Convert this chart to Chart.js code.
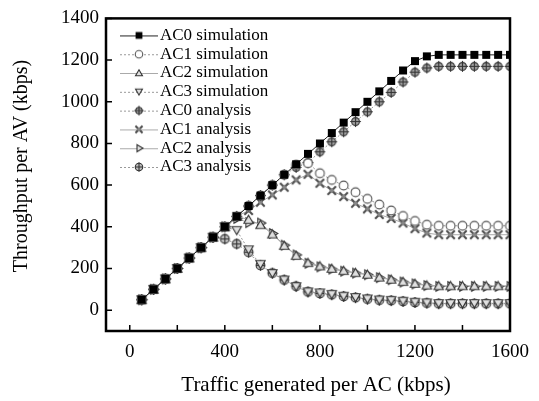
<!DOCTYPE html>
<html>
<head>
<meta charset="utf-8">
<script src="https://cdn.jsdelivr.net/npm/chart.js@4.4.1/dist/chart.umd.min.js"></script>
<style>
  html, body { margin: 0; padding: 0; background: #fff; }
  #wrap { width: 539px; height: 401px; }
</style>
</head>
<body>
<div id="wrap"><canvas id="throughput-chart" width="539" height="401"></canvas></div>
<script>
// traffic generated per AC (kbps), one point every 50
const trafficKbps = [50, 100, 150, 200, 250, 300, 350, 400, 450, 500, 550, 600, 650, 700, 750, 800,
    850, 900, 950, 1000, 1050, 1100, 1150, 1200, 1250, 1300, 1350, 1400, 1450, 1500, 1550, 1600];

const ac0Simulation = [50, 100, 150, 200, 250, 300, 350, 400, 450, 500, 550, 600, 650, 700, 750, 800,
    850, 900, 950, 1000, 1050, 1100, 1150, 1195, 1218, 1225, 1225, 1225, 1225, 1225, 1225, 1225];
const ac1Simulation = [50, 100, 150, 200, 250, 300, 350, 400, 450, 500, 550, 600, 650, 698, 705, 657,
    625, 598, 566, 534, 507, 478, 452, 428, 410, 405, 405, 405, 405, 405, 405, 405];
const ac2Simulation = [50, 100, 150, 200, 250, 300, 350, 400, 450, 435, 410, 365, 310, 262, 228, 212,
    200, 190, 180, 172, 158, 148, 137, 128, 120, 117, 117, 117, 117, 117, 117, 117];
const ac3Simulation = [50, 100, 150, 200, 250, 300, 350, 400, 383, 290, 220, 176, 145, 113, 88, 83,
    76, 67, 61, 54, 49, 47, 43, 38, 35, 32, 32, 32, 32, 32, 32, 32];
const ac0Analysis = [50, 100, 150, 200, 250, 300, 350, 400, 450, 500, 550, 600, 650, 685, 708, 760,
    808, 856, 905, 952, 1000, 1045, 1095, 1142, 1162, 1170, 1170, 1170, 1170, 1170, 1170, 1170];
const ac1Analysis = [50, 100, 150, 200, 250, 300, 350, 400, 450, 478, 518, 553, 590, 625, 652, 609,
    574, 545, 513, 486, 459, 440, 418, 391, 370, 362, 362, 362, 362, 362, 362, 362];
const ac2Analysis = [50, 100, 150, 200, 250, 300, 350, 400, 440, 420, 418, 368, 312, 265, 225, 208,
    197, 187, 178, 170, 156, 146, 135, 126, 118, 114, 114, 114, 114, 114, 114, 114];
const ac3Analysis = [50, 100, 150, 200, 250, 300, 350, 342, 318, 278, 215, 178, 145, 115, 88, 80,
    74, 66, 60, 53, 48, 46, 42, 37, 34, 31, 31, 31, 31, 31, 31, 31];

const seriesLabels = ['AC0 simulation', 'AC1 simulation', 'AC2 simulation', 'AC3 simulation',
    'AC0 analysis', 'AC1 analysis', 'AC2 analysis', 'AC3 analysis'];
const seriesValues = [ac0Simulation, ac1Simulation, ac2Simulation, ac3Simulation,
    ac0Analysis, ac1Analysis, ac2Analysis, ac3Analysis];

const xTickValues = [0, 200, 400, 600, 800, 1000, 1200, 1400, 1600];
const xLabelValues = [0, 400, 800, 1200, 1600];
const yTickValues = [0, 200, 400, 600, 800, 1000, 1200, 1400];
const xTitle = 'Traffic generated per AC (kbps)';
const yTitle = 'Throughput per AV (kbps)';

// look of each series: marker kind, marker radius, line colour, dotted or not
const seriesLook = [
    { kind: 'square', r: 4, line: '#222', dotted: false },
    { kind: 'circle', r: 4.4, line: '#999', dotted: true },
    { kind: 'triUp', r: 5.4, line: '#aaa', dotted: false },
    { kind: 'triDown', r: 5.4, line: '#999', dotted: true },
    { kind: 'circleCross', r: 4.4, line: '#999', dotted: true },
    { kind: 'xStar', r: 4.2, line: '#aaa', dotted: false },
    { kind: 'triRight', r: 5.4, line: '#aaa', dotted: false },
    { kind: 'circleBar', r: 4.4, line: '#999', dotted: true }
];

const SERIF = '"Liberation Serif", "Times New Roman", serif';

function triangle(ctx, cx, cy, r, rotDeg) {
    ctx.beginPath();
    for (let k = 0; k < 3; k++) {
        const a = (rotDeg - 90 + k * 120) * Math.PI / 180;
        const px = cx + r * Math.cos(a), py = cy + r * Math.sin(a) + (rotDeg === 0 ? r * 0.2 : rotDeg === 180 ? -r * 0.2 : 0);
        k === 0 ? ctx.moveTo(px, py) : ctx.lineTo(px, py);
    }
    ctx.closePath(); ctx.fill(); ctx.stroke();
}

function drawShape(ctx, kind, cx, cy, r) {
    ctx.lineWidth = 1.1; ctx.strokeStyle = '#333'; ctx.setLineDash([]);
    if (kind === 'square') {
        ctx.fillStyle = '#000'; ctx.fillRect(cx - r, cy - r, 2 * r, 2 * r); return;
    }
    if (kind === 'circle') {
        ctx.fillStyle = '#fff'; ctx.strokeStyle = '#555'; ctx.beginPath(); ctx.arc(cx, cy, r, 0, Math.PI * 2); ctx.fill(); ctx.stroke(); return;
    }
    if (kind === 'triUp' || kind === 'triDown' || kind === 'triRight') {
        ctx.fillStyle = '#e0e0e0';
        triangle(ctx, cx, cy, r, kind === 'triUp' ? 0 : kind === 'triDown' ? 180 : 90); return;
    }
    if (kind === 'circleCross') {
        ctx.fillStyle = '#a0a0a0'; ctx.beginPath(); ctx.arc(cx, cy, r - 0.5, 0, Math.PI * 2); ctx.fill(); ctx.stroke();
        ctx.beginPath(); ctx.moveTo(cx - r - 1, cy); ctx.lineTo(cx + r + 1, cy); ctx.moveTo(cx, cy - r - 1); ctx.lineTo(cx, cy + r + 1); ctx.stroke(); return;
    }
    if (kind === 'xStar') {
        ctx.lineWidth = 2; ctx.strokeStyle = '#4a4a4a';
        ctx.beginPath(); ctx.moveTo(cx - r, cy - r); ctx.lineTo(cx + r, cy + r); ctx.moveTo(cx + r, cy - r); ctx.lineTo(cx - r, cy + r); ctx.stroke();
        ctx.fillStyle = '#888'; ctx.beginPath(); ctx.moveTo(cx, cy - 2.5); ctx.lineTo(cx + 2.5, cy); ctx.lineTo(cx, cy + 2.5); ctx.lineTo(cx - 2.5, cy); ctx.closePath(); ctx.fill(); return;
    }
    if (kind === 'circleBar') {
        ctx.fillStyle = '#bdbdbd'; ctx.beginPath(); ctx.arc(cx, cy, r, 0, Math.PI * 2); ctx.fill(); ctx.stroke();
        ctx.beginPath(); ctx.moveTo(cx - r, cy); ctx.lineTo(cx + r, cy); ctx.moveTo(cx, cy - r - 1); ctx.lineTo(cx, cy + r + 1); ctx.stroke();
    }
}

function makeMarker(look) {
    const size = Math.ceil(2 * look.r + 4);
    const c = document.createElement('canvas'); c.width = size; c.height = size;
    drawShape(c.getContext('2d'), look.kind, size / 2, size / 2, look.r);
    return c;
}

function makeLegendSample(look) {
    const c = document.createElement('canvas'); c.width = 38; c.height = 14;
    const g = c.getContext('2d');
    g.strokeStyle = look.line; g.lineWidth = 1; g.setLineDash(look.dotted ? [2, 2] : []);
    g.beginPath(); g.moveTo(0, 7.5); g.lineTo(38, 7.5); g.stroke();
    drawShape(g, look.kind, 19, 7, Math.min(look.r * 0.85, 4));
    return c;
}

const legendSamples = seriesLook.map(makeLegendSample);

const datasets = seriesLabels.map((label, i) => ({
    label,
    data: trafficKbps.map((x, k) => ({ x, y: seriesValues[i][k] })),
    borderColor: seriesLook[i].line,
    borderWidth: 1,
    borderDash: seriesLook[i].dotted ? [2, 2] : [],
    pointStyle: makeMarker(seriesLook[i]),
    pointRadius: 4,
    fill: false,
    tension: 0
}));

// inward tick marks, closed frame, axis titles and the legend inside the plot
const frameLegendPlugin = {
    id: 'frameLegendPlugin',
    afterDatasetsDraw(chart) {
        const { ctx, chartArea: { left, right, top, bottom }, scales: { x, y } } = chart;
        ctx.save();
        ctx.strokeStyle = '#000'; ctx.lineWidth = 1.5; ctx.setLineDash([]);
        ctx.beginPath();
        xTickValues.forEach(v => { const px = x.getPixelForValue(v); ctx.moveTo(px, bottom); ctx.lineTo(px, bottom - 6); });
        yTickValues.forEach(v => { const py = y.getPixelForValue(v); ctx.moveTo(left, py); ctx.lineTo(left + 6, py); });
        ctx.stroke();
        ctx.lineWidth = 2.5;
        ctx.strokeRect(left, top, right - left, bottom - top);

        ctx.fillStyle = '#000'; ctx.textAlign = 'center'; ctx.textBaseline = 'middle';
        ctx.font = '21px ' + SERIF;
        ctx.fillText(xTitle, (left + right) / 2 + 8, 385);
        ctx.save();
        ctx.translate(22, 166); ctx.rotate(-Math.PI / 2);
        ctx.font = '20px ' + SERIF;
        ctx.fillText(yTitle, 0, 0);
        ctx.restore();

        ctx.font = '17px ' + SERIF; ctx.textBaseline = 'middle'; ctx.textAlign = 'left';
        seriesLabels.forEach((label, i) => {
            const rowY = top + 17 + i * 18.8;
            ctx.drawImage(legendSamples[i], left + 14, rowY - 7);
            ctx.fillText(label, left + 54, rowY);
        });
        ctx.restore();
    }
};

new Chart(document.getElementById('throughput-chart'), {
    type: 'line',
    data: { datasets },
    options: {
        responsive: false,
        animation: false,
        layout: { padding: { top: 17, right: 12, left: 0, bottom: 0 } },
        plugins: { legend: { display: false }, tooltip: { enabled: false } },
        scales: {
            x: {
                type: 'linear', min: -100, max: 1600,
                afterFit: s => { s.height = 70; },
                afterBuildTicks: s => { s.ticks = xTickValues.map(v => ({ value: v })); },
                grid: { display: false, drawTicks: false },
                border: { display: false },
                ticks: {
                    padding: 10, color: '#000', font: { family: SERIF, size: 19 },
                    autoSkip: false, maxRotation: 0,
                    callback: v => xLabelValues.includes(v) ? String(v) : ''
                }
            },
            y: {
                type: 'linear', min: -100, max: 1400,
                afterFit: s => { s.width = 106; },
                afterBuildTicks: s => { s.ticks = yTickValues.map(v => ({ value: v })); },
                grid: { display: false, drawTicks: false },
                border: { display: false },
                ticks: { padding: 7, color: '#000', font: { family: SERIF, size: 19 }, callback: v => String(v) }
            }
        }
    },
    plugins: [frameLegendPlugin]
});
</script>
</body>
</html>
